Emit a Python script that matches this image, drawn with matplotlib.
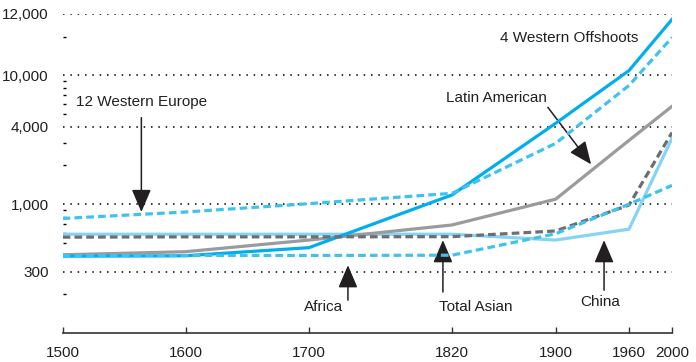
import numpy as np
import matplotlib
matplotlib.use("Agg")
import matplotlib.pyplot as plt
from matplotlib.ticker import FixedLocator, NullFormatter

plt.rcParams['font.family'] = ['Liberation Sans', 'DejaVu Sans']

# GDP per capita by region (1990 int. dollars)
years = [1500, 1600, 1700, 1820, 1900, 1960, 2000]
western_europe = [775, 870, 1010, 1215, 2970, 8350, 19700]
western_offshoots = [395, 398, 460, 1180, 4250, 10900, 27200]
latin_america = [405, 428, 527, 690, 1095, 3130, 5750]
total_asia = [555, 558, 558, 560, 620, 985, 3600]
china = [585, 585, 585, 585, 527, 640, 3250]
africa = [398, 400, 400, 402, 590, 1000, 1400]

y_ticks = [300, 1000, 4000, 10000, 30000]
y_tick_labels = ['300', '1,000', '4,000', '10,000', '12,000']
y_minor = [200, 400, 500, 600, 700, 800, 900, 2000, 3000,
           5000, 6000, 7000, 8000, 9000, 20000]

text_col = '#231f20'
c_bright = '#00aeef'
c_dash = '#3ec3f0'
c_china = '#86d4f5'
c_grey = '#9a9b9d'
c_dark = '#6d6e71'

fig = plt.figure(figsize=(6.96, 3.62), dpi=100)
ax = fig.add_axes([0.090, 0.080, 0.8755, 0.8815])

# year axis is stretched unevenly between the marked years
tick_pos = [62.7, 185.7, 309, 452, 555.7, 629, 672]
def fwd(x):
    return np.interp(x, years, tick_pos)
def inv(p):
    return np.interp(p, tick_pos, years)
ax.set_xscale('function', functions=(fwd, inv))
ax.set_yscale('log')
ax.set_xlim(1500, 2000)
ax.set_ylim(100, 30000)

lw = 2.3
dash = (0, (2.4, 1.3))
ax.plot(years, china, color=c_china, lw=lw, zorder=3)
ax.plot(years, latin_america, color=c_grey, lw=lw, zorder=3)
ax.plot(years, western_offshoots, color=c_bright, lw=lw, zorder=4)
ax.plot(years, total_asia, color=c_dark, lw=lw, ls=dash, zorder=5)
ax.plot(years, western_europe, color=c_dash, lw=lw, ls=dash, zorder=5)
ax.plot(years, africa, color=c_dash, lw=lw, ls=dash, zorder=6)

for v in y_ticks:
    ax.axhline(v, color='black', lw=1.1, ls=(0, (1, 3.8)), zorder=1)

ax.yaxis.set_major_locator(FixedLocator(y_ticks))
ax.set_yticklabels(y_tick_labels)
ax.yaxis.set_minor_locator(FixedLocator(y_minor))
ax.yaxis.set_minor_formatter(NullFormatter())
ax.set_xticks(years)
ax.set_xticklabels([str(y) for y in years])
ax.xaxis.set_minor_locator(FixedLocator([]))

fs = 11
ax.tick_params(axis='y', which='major', length=0, pad=10,
               labelsize=fs, labelcolor=text_col)
ax.tick_params(axis='y', which='minor', direction='in', length=2.5,
               width=1, color='black')
ax.tick_params(axis='x', direction='in', length=4, width=1, color='#333333',
               pad=9, labelsize=fs, labelcolor=text_col)

for s in ['top', 'right', 'left']:
    ax.spines[s].set_visible(False)
ax.spines['bottom'].set_color('#333333')
ax.spines['bottom'].set_linewidth(1.2)

arrow = dict(arrowstyle='-|>,head_length=0.7,head_width=0.3',
             mutation_scale=20, color=text_col, lw=1.1,
             shrinkA=0, shrinkB=0)

ax.text(1564, 6200, '12 Western Europe', ha='center', va='center',
        fontsize=fs, color=text_col)
ax.annotate('', xy=(1564, 870), xytext=(1564, 4700), arrowprops=arrow)

ax.text(1911, 19400, '4 Western Offshoots', ha='center', va='center',
        fontsize=fs, color=text_col)

ax.text(1854, 6640, 'Latin American', ha='center', va='center',
        fontsize=fs, color=text_col)
ax.annotate('', xy=(1929, 2040), xytext=(1894, 5650), arrowprops=arrow)

ax.text(1712.6, 159, 'Africa', ha='center', va='center',
        fontsize=fs, color=text_col)
ax.annotate('', xy=(1732.7, 336), xytext=(1732.7, 180), arrowprops=arrow)

ax.text(1838.5, 159, 'Total Asian', ha='center', va='center',
        fontsize=fs, color=text_col)
ax.annotate('', xy=(1812.4, 526), xytext=(1812.4, 208), arrowprops=arrow)

ax.text(1936.3, 174, 'China', ha='center', va='center',
        fontsize=fs, color=text_col)
ax.annotate('', xy=(1939.6, 526), xytext=(1939.6, 215), arrowprops=arrow)

fig.savefig('out.png', dpi=100)
